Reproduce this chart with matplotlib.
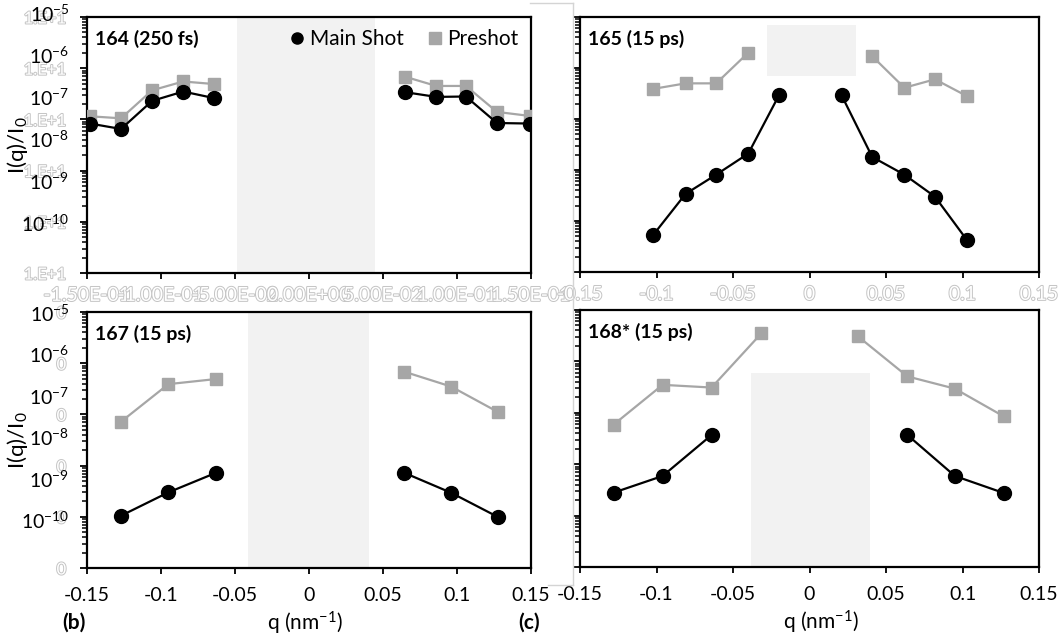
import numpy as np
import matplotlib.pyplot as plt
import matplotlib.patheffects as pe
from matplotlib.lines import Line2D

plt.rcParams['font.family'] = ['Lato', 'DejaVu Sans']
plt.rcParams['mathtext.default'] = 'regular'

# shot 164 (250 fs)
q_164 = [-0.148, -0.127, -0.106, -0.085, -0.064, 0.065, 0.086, 0.106, 0.127, 0.149]
main_164 = [8.3e-8, 6.5e-8, 2.3e-7, 3.5e-7, 2.6e-7, 3.4e-7, 2.75e-7, 2.8e-7, 8.5e-8, 8.3e-8]
q_pre_164 = q_164
pre_164 = [1.15e-7, 1.05e-7, 3.7e-7, 5.5e-7, 4.9e-7, 6.8e-7, 4.5e-7, 4.5e-7, 1.4e-7, 1.17e-7]

# shot 165 (15 ps)
q_165 = [-0.102, -0.081, -0.061, -0.040, -0.020, 0.021, 0.041, 0.062, 0.082, 0.103]
main_165 = [5.4e-10, 3.4e-9, 8.1e-9, 2.1e-8, 2.9e-7, 2.9e-7, 1.8e-8, 8.1e-9, 3.0e-9, 4.2e-10]
q_pre_165 = [-0.102, -0.081, -0.061, -0.040, 0.041, 0.062, 0.082, 0.103]
pre_165 = [3.9e-7, 5.0e-7, 5.0e-7, 2.0e-6, 1.7e-6, 4.1e-7, 6.0e-7, 2.8e-7]

# shot 167 (15 ps)
q_167 = [-0.127, -0.095, -0.063, 0.0645, 0.096, 0.128]
main_167 = [1.05e-9, 3.0e-9, 7.2e-9, 7.2e-9, 2.95e-9, 9.8e-10]
q_pre_167 = q_167
pre_167 = [7.2e-8, 3.9e-7, 4.9e-7, 6.8e-7, 3.5e-7, 1.1e-7]

# shot 168* (15 ps)
q_168 = [-0.128, -0.096, -0.064, 0.064, 0.095, 0.127]
main_168 = [2.8e-9, 5.9e-9, 3.7e-8, 3.7e-8, 5.9e-9, 2.75e-9]
q_pre_168 = [-0.128, -0.096, -0.064, -0.0315, 0.0315, 0.064, 0.095, 0.127]
pre_168 = [5.9e-8, 3.5e-7, 3.1e-7, 3.5e-6, 3.1e-6, 5.1e-7, 2.95e-7, 8.5e-8]

# masked (beam stop) regions: q0, q1, I0, I1 (None = full height)
shade_164 = (-0.0486, 0.0446, None, None)
shade_165 = (-0.0275, 0.0304, 7.1e-7, 7.1e-6)
shade_167 = (-0.0413, 0.0404, None, None)
shade_168 = (-0.038, 0.0395, 1e-10, 6.0e-7)

titles = ['164 (250 fs)', '165 (15 ps)', '167 (15 ps)', '168* (15 ps)']
x_ticks = [-0.15, -0.1, -0.05, 0, 0.05, 0.1, 0.15]
x_labels = ['-0.15', '-0.1', '-0.05', '0', '0.05', '0.1', '0.15']
x_labels_sci = ['-1.50E-01', '-1.00E-01', '-5.00E-02', '0.00E+00', '5.00E-02', '1.00E-01', '1.50E-01']
y_ticks = [1e-10, 1e-9, 1e-8, 1e-7, 1e-6, 1e-5]
y_overlay = ['10$^{-5}$', '10$^{-6}$', '10$^{-7}$', '10$^{-8}$', '10$^{-9}$', '10$^{-10}$']

GREY = '#a6a6a6'
SHADE = '#f2f2f2'
W, H = 1060, 642


def ghost(texts):
    for t in texts:
        t.set_color('white')
        t.set_path_effects([pe.withStroke(linewidth=1.4, foreground='#c4c4c4')])


def px_axes(left, right, top, bottom):
    return fig.add_axes([left / W, 1 - bottom / H, (right - left) / W, (bottom - top) / H])


def draw_side(ax, q, vals, **kw):
    q = np.asarray(q)
    vals = np.asarray(vals)
    for side in (q < 0, q > 0):
        ax.plot(q[side], vals[side], **kw)


def setup(ax, title, shade, xpad):
    ax.set_yscale('log')
    ax.set_xlim(-0.15, 0.15)
    ax.set_ylim(1e-10, 1e-5)
    ax.set_xticks(x_ticks)
    ax.set_yticks(y_ticks)
    for s in ax.spines.values():
        s.set_linewidth(1.6)
    ax.tick_params(axis='x', direction='out', length=4, width=1.3, labelsize=14, pad=xpad)
    ax.tick_params(axis='y', which='major', direction='out', length=5, width=1.3, labelsize=12, pad=10)
    ax.tick_params(axis='y', which='minor', direction='out', length=3.5, width=1.1)
    q0, q1, y0, y1 = shade
    if y0 is None:
        ax.axvspan(q0, q1, color=SHADE, lw=0, zorder=0)
    else:
        ax.fill_between([q0, q1], y0, y1, color=SHADE, lw=0, zorder=0)
    ax.text(0.018, 0.915, title, transform=ax.transAxes, fontsize=14,
            fontweight='bold', ha='left', va='center')


def series(ax, q, main, qp, pre):
    draw_side(ax, qp, pre, color=GREY, lw=1.6, marker='s', ms=9, zorder=3)
    draw_side(ax, q, main, color='black', lw=1.6, marker='o', ms=10, zorder=4)


fig = plt.figure(figsize=(W / 100, H / 100), dpi=100)

ax164 = px_axes(87, 531, 17, 273)
ax165 = px_axes(580, 1039, 17, 272)
ax167 = px_axes(87, 531, 312, 568)
ax168 = px_axes(580, 1039, 310, 567)

for ax, t, sh, xp in zip([ax164, ax165, ax167, ax168], titles,
                         [shade_164, shade_165, shade_167, shade_168], [6, 6, 10, 10]):
    setup(ax, t, sh, xp)

series(ax164, q_164, main_164, q_pre_164, pre_164)
series(ax165, q_165, main_165, q_pre_165, pre_165)
series(ax167, q_167, main_167, q_pre_167, pre_167)
series(ax168, q_168, main_168, q_pre_168, pre_168)

# tick labels: ghosted (overwritten) ones on the top row and left axes
ax164.set_xticklabels(x_labels_sci)
ghost(ax164.get_xticklabels())
ax164.set_yticklabels(['1.E+1'] * len(y_ticks))
ghost(ax164.get_yticklabels())
ax165.set_xticklabels(x_labels)
ghost(ax165.get_xticklabels())
ax165.set_yticklabels([])
ax167.set_xticklabels(x_labels)
ax167.set_yticklabels(['0'] * len(y_ticks))
ghost(ax167.get_yticklabels())
ax168.set_xticklabels(x_labels)
ax168.set_yticklabels([])
for ax in (ax164, ax165, ax167, ax168):
    ax.yaxis.set_minor_formatter(plt.NullFormatter())

# pasted power-of-ten labels on the left panels
for ax, start, step in [(ax164, 1.012, 0.1645), (ax167, 0.992, 0.162)]:
    for k, lab in enumerate(y_overlay):
        ax.text(-0.04, start - k * step, lab, transform=ax.transAxes,
                ha='right', va='center', fontsize=14)
    ax.set_ylabel('I(q)/I$_0$', fontsize=16)
    ax.yaxis.set_label_coords(-0.128, 0.5)

for ax in (ax167, ax168):
    ax.set_xlabel('q (nm$^{-1}$)', fontsize=15)
ax167.xaxis.set_label_coords(0.49, -0.165)
ax168.xaxis.set_label_coords(0.525, -0.162)

ax167.text(-0.03, -0.215, '(b)', transform=ax167.transAxes, fontsize=15,
           fontweight='bold', ha='center', va='center')
ax167.text(0.995, -0.215, '(c)', transform=ax167.transAxes, fontsize=15,
           fontweight='bold', ha='center', va='center')

handles = [Line2D([], [], color='black', marker='o', ms=8, ls='none'),
           Line2D([], [], color=GREY, marker='s', ms=8, ls='none')]
ax164.legend(handles, ['Main Shot', 'Preshot'], loc='upper right', ncol=2,
             frameon=False, fontsize=15, handlelength=0.6, handletextpad=0.3,
             columnspacing=1.2, borderaxespad=0.2, bbox_to_anchor=(1.0, 1.0))

# frame of the pasted right-hand image
frame = dict(color='#d4d4d4', lw=1.0, transform=fig.transFigure)
fig.add_artist(Line2D([530 / W, 573 / W], [1 - 3 / H, 1 - 3 / H], **frame))
fig.add_artist(Line2D([573 / W, 573 / W], [1 - 3 / H, 1 - 585 / H], **frame))
fig.add_artist(Line2D([548 / W, 573 / W], [1 - 585 / H, 1 - 585 / H], **frame))

fig.savefig('out.png', dpi=100)
